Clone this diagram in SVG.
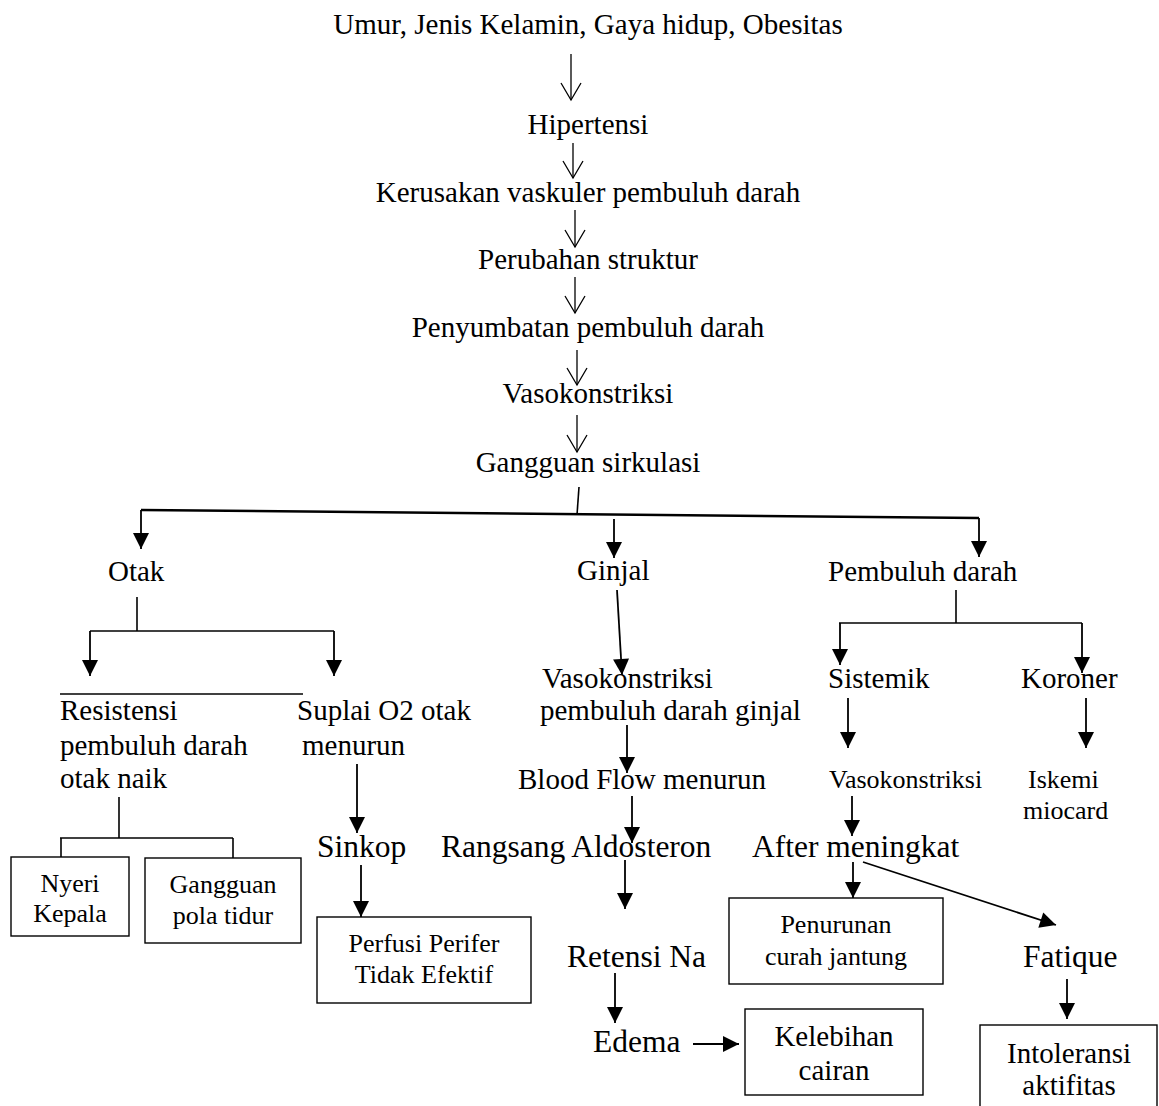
<svg xmlns="http://www.w3.org/2000/svg" width="1159" height="1106" viewBox="0 0 1159 1106">
<style>
text{font-family:"Liberation Serif","Times New Roman",serif;fill:#000}
.m{font-size:29px}
.c{text-anchor:middle}
.b{font-size:31.5px}
.s{font-size:26px}
.ln{stroke:#000;stroke-width:1.6;fill:none}
.ar{stroke:#000;stroke-width:1.8;fill:none;marker-end:url(#tri)}
.op{stroke:#000;stroke-width:1.3;fill:none;marker-end:url(#vee)}
.bx{fill:#fff;stroke:#000;stroke-width:1.4}
</style>
<defs>
<marker id="tri" markerUnits="userSpaceOnUse" markerWidth="16" markerHeight="16" viewBox="0 0 16 16" refX="16" refY="8" orient="auto" overflow="visible"><path d="M0,0 L16,8 L0,16 z" fill="#000"/></marker>
<marker id="vee" markerUnits="userSpaceOnUse" markerWidth="18" markerHeight="22" viewBox="0 0 18 22" refX="17" refY="11" orient="auto" overflow="visible"><path d="M0,1 L17,11 L0,21" fill="none" stroke="#000" stroke-width="1.3"/></marker>
</defs>
<rect width="1159" height="1106" fill="#fff"/>
<g id="connectors">
<path class="op" d="M571,54 L571,100"/>
<path class="op" d="M573,143 L573,178"/>
<path class="op" d="M575,210 L575,247"/>
<path class="op" d="M575,277 L575,313"/>
<path class="op" d="M577,350 L577,385"/>
<path class="op" d="M577,415 L577,452"/>
<path class="ln" d="M579,487 L577,515"/>
<path d="M141,510 L979,518" stroke="#000" stroke-width="2.5" fill="none"/>
<path class="ar" d="M141,510 L141,549"/>
<path class="ar" d="M614,519 L614,558"/>
<path class="ar" d="M979,518 L979,557"/>
<path class="ln" d="M137,597 L137,631"/>
<path class="ln" d="M90,631 L334,631"/>
<path class="ar" d="M90,631 L90,676"/>
<path class="ar" d="M334,631 L334,676"/>
<path class="ln" d="M60,694 L303,694"/>
<path class="ln" d="M119,797 L119,838"/>
<path class="ln" d="M60,838 L233,838"/>
<path class="ln" d="M61,838 L61,857"/>
<path class="ln" d="M233,838 L233,858"/>
<path class="ar" d="M357,764 L357,833"/>
<path class="ar" d="M361,865 L361,917"/>
<path class="ar" d="M617,590 L622,675"/>
<path class="ar" d="M627,725 L627,773"/>
<path class="ar" d="M632,796 L632,843"/>
<path class="ar" d="M625,860 L625,909"/>
<path class="ar" d="M615,973 L615,1023"/>
<path class="ar" d="M693,1044 L739,1044"/>
<path class="ln" d="M956,590 L956,623"/>
<path class="ln" d="M839,623 L1082,623"/>
<path class="ar" d="M840,623 L840,665"/>
<path class="ar" d="M1082,623 L1082,673"/>
<path class="ar" d="M848,698 L848,748"/>
<path class="ar" d="M1086,698 L1086,748"/>
<path class="ar" d="M852,796 L852,836"/>
<path class="ar" d="M853,862 L853,898"/>
<path class="ar" d="M863,862 L1056,925"/>
<path class="ar" d="M1067,979 L1067,1019"/>
</g>
<g id="n-faktor"><text class="m c" x="588" y="34">Umur, Jenis Kelamin, Gaya hidup, Obesitas</text></g>
<g id="n-hipertensi"><text class="m c" x="588" y="134">Hipertensi</text></g>
<g id="n-kerusakan"><text class="m c" x="588" y="202">Kerusakan vaskuler pembuluh darah</text></g>
<g id="n-perubahan"><text class="m c" x="588" y="269">Perubahan struktur</text></g>
<g id="n-penyumbatan"><text class="m c" x="588" y="337">Penyumbatan pembuluh darah</text></g>
<g id="n-vasokonstriksi"><text class="m c" x="588" y="403">Vasokonstriksi</text></g>
<g id="n-gangguan"><text class="m c" x="588" y="472">Gangguan sirkulasi</text></g>
<g id="n-otak"><text class="m" x="108" y="581">Otak</text></g>
<g id="n-ginjal"><text class="m" x="577" y="580">Ginjal</text></g>
<g id="n-pembuluh"><text class="m" x="828" y="581">Pembuluh darah</text></g>
<g id="n-resistensi"><text class="m" x="60" y="720">Resistensi</text><text class="m" x="60" y="755">pembuluh darah</text><text class="m" x="60" y="788">otak naik</text></g>
<g id="n-suplai"><text class="m" x="297" y="720">Suplai O2 otak</text><text class="m" x="302" y="755">menurun</text></g>
<g id="n-nyeri"><rect class="bx" x="11" y="857" width="118" height="79"/><text class="s c" x="70" y="892">Nyeri</text><text class="s c" x="70" y="922">Kepala</text></g>
<g id="n-pola"><rect class="bx" x="145" y="858" width="156" height="85"/><text class="s c" x="223" y="893">Gangguan</text><text class="s c" x="223" y="924">pola tidur</text></g>
<g id="n-sinkop"><text class="b" x="317" y="857">Sinkop</text></g>
<g id="n-perfusi"><rect class="bx" x="317" y="917" width="214" height="86"/><text class="s c" x="424" y="952">Perfusi Perifer</text><text class="s c" x="424" y="983">Tidak Efektif</text></g>
<g id="n-vaso-ginjal"><text class="m" x="542" y="688">Vasokonstriksi</text><text class="m" x="540" y="720">pembuluh darah ginjal</text></g>
<g id="n-blood"><text class="m" x="518" y="789">Blood Flow menurun</text></g>
<g id="n-rangsang"><text class="b" x="441" y="857">Rangsang Aldosteron</text></g>
<g id="n-retensi"><text class="b" x="567" y="967">Retensi Na</text></g>
<g id="n-edema"><text class="b" x="593" y="1052">Edema</text></g>
<g id="n-kelebihan"><rect class="bx" x="745" y="1009" width="178" height="86"/><text class="m c" x="834" y="1046">Kelebihan</text><text class="m c" x="834" y="1080">cairan</text></g>
<g id="n-sistemik"><text class="m" x="828" y="688">Sistemik</text></g>
<g id="n-koroner"><text class="m" x="1021" y="688">Koroner</text></g>
<g id="n-vaso-sistemik"><text class="s" x="829" y="788">Vasokonstriksi</text></g>
<g id="n-iskemi"><text class="s" x="1028" y="788">Iskemi</text><text class="s" x="1023" y="819">miocard</text></g>
<g id="n-after"><text class="b" x="752" y="857">After meningkat</text></g>
<g id="n-penurunan"><rect class="bx" x="729" y="898" width="214" height="86"/><text class="s c" x="836" y="933">Penurunan</text><text class="s c" x="836" y="965">curah jantung</text></g>
<g id="n-fatique"><text class="b" x="1023" y="967">Fatique</text></g>
<g id="n-intoleransi"><rect class="bx" x="980" y="1025" width="177" height="100"/><text class="m c" x="1069" y="1063">Intoleransi</text><text class="m c" x="1069" y="1095">aktifitas</text></g>
</svg>
